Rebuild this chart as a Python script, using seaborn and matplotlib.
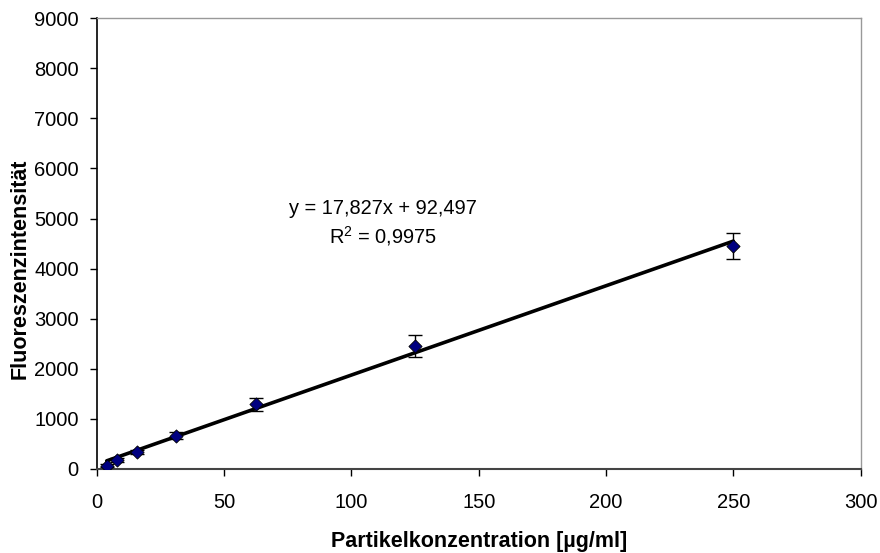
import numpy as np
import pandas as pd
import matplotlib
matplotlib.use('Agg')
import matplotlib.pyplot as plt
import seaborn as sb

# Partikelkonzentration vs. Fluoreszenz
konz = [3.9, 7.8, 15.6, 31.25, 62.5, 125, 250]
fluoreszenz = [66, 172, 333, 666, 1290, 2450, 4460]
fehler = [30, 40, 40, 65, 130, 220, 260]
steigung = 17.827
achsenabschnitt = 92.497
r2 = 0.9975

x_ticks = [0, 50, 100, 150, 200, 250, 300]
y_ticks = [0, 1000, 2000, 3000, 4000, 5000, 6000, 7000, 8000, 9000]

sb.set_style('white')
plt.rcParams['font.family'] = ['Liberation Sans', 'DejaVu Sans']
plt.rcParams['text.color'] = 'black'
plt.rcParams['axes.labelcolor'] = 'black'
plt.rcParams['xtick.color'] = 'black'
plt.rcParams['ytick.color'] = 'black'

df = pd.DataFrame({'konz': konz, 'fluoreszenz': fluoreszenz})

fig, ax = plt.subplots(figsize=(8.8, 5.53), dpi=100)
fig.subplots_adjust(left=0.110, right=0.978, top=0.967, bottom=0.152)

# Regressionsgerade
xs = np.array([konz[0], konz[-1]])
ax.plot(xs, steigung * xs + achsenabschnitt, color='black', lw=2.6, zorder=2)

ax.errorbar(konz, fluoreszenz, yerr=fehler, fmt='none', ecolor='black',
            elinewidth=1, capsize=5, capthick=1, zorder=3)
sb.scatterplot(data=df, x='konz', y='fluoreszenz', marker='D', s=45,
               color='#000080', edgecolor='black', linewidth=0.6,
               ax=ax, zorder=4)

ax.text(112.3, 5200, f'y = {steigung:.3f}x + {achsenabschnitt:.3f}'.replace('.', ','),
        ha='center', va='center', fontsize=14.4)
ax.text(112.3, 4660, '$\\mathregular{R^2}$ = ' + f'{r2:.4f}'.replace('.', ','),
        ha='center', va='center', fontsize=14.4)

ax.set_xlim(0, 300)
ax.set_ylim(0, 9000)
ax.set_xticks(x_ticks)
ax.set_yticks(y_ticks)
ax.tick_params(axis='both', direction='out', length=5, width=1,
               color='black', labelsize=14.5, bottom=True, left=True)
ax.tick_params(axis='y', pad=8)
ax.tick_params(axis='x', pad=12)

for side in ['top', 'right']:
    ax.spines[side].set_color('#999999')
    ax.spines[side].set_linewidth(1)
ax.spines['left'].set_color('black')
ax.spines['bottom'].set_color('#444444')
ax.spines['left'].set_linewidth(1.2)
ax.spines['bottom'].set_linewidth(1.5)

ax.set_xlabel('Partikelkonzentration [µg/ml]', fontsize=15.5, fontweight='bold')
ax.set_ylabel('Fluoreszenzintensität', fontsize=15.5, fontweight='bold')
ax.xaxis.set_label_coords(0.5, -0.1375)
ax.yaxis.set_label_coords(-0.0864, 0.4435)

fig.savefig('out.png', dpi=100)
